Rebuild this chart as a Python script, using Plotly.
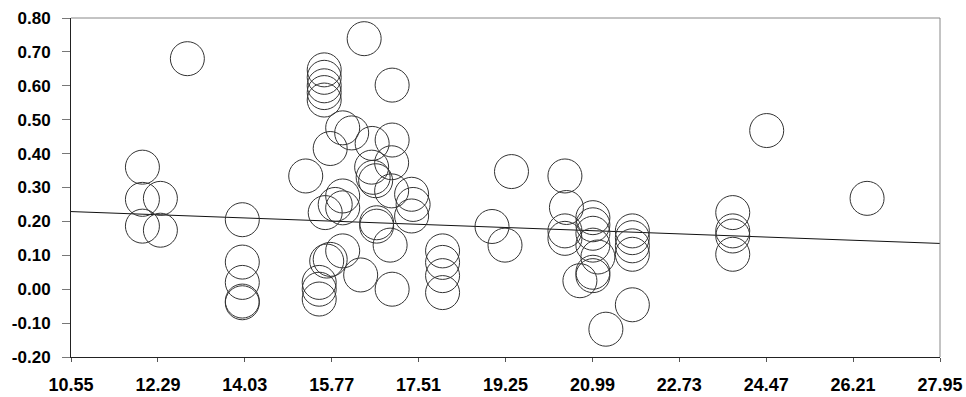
import plotly.graph_objects as go

# --- data ---
x_vals = [
    11.98, 11.98, 11.98, 12.34, 12.34, 12.88,
    13.98, 13.98, 13.98, 13.98, 13.98,
    15.25,
    15.62, 15.62, 15.62, 15.62, 15.62,
    15.74, 15.99, 16.17, 16.42, 16.98,
    16.58, 16.98, 16.57, 16.60, 16.65, 16.97, 16.97,
    17.37, 17.40, 17.37,
    15.99, 15.84, 15.99, 15.64,
    16.67, 16.67, 16.94,
    15.99, 15.67, 15.74, 16.35,
    15.52, 15.52, 15.52, 16.98,
    17.99, 17.99, 17.99, 17.99,
    19.37, 18.98, 19.24,
    20.44, 20.47, 20.44, 20.44, 20.74,
    21.00, 21.00, 21.00, 21.00, 21.10, 21.00, 21.00,
    21.79, 21.79, 21.79, 21.79, 21.79, 21.26,
    23.80, 23.80, 23.80, 23.80,
    24.48, 26.49,
]
y_vals = [
    0.360, 0.265, 0.186, 0.268, 0.174, 0.680,
    0.205, 0.080, 0.020, -0.035, -0.040,
    0.334,
    0.647, 0.625, 0.600, 0.580, 0.558,
    0.415, 0.476, 0.461, 0.739, 0.602,
    0.430, 0.440, 0.360, 0.330, 0.320, 0.373, 0.290,
    0.280, 0.250, 0.216,
    0.275, 0.250, 0.240, 0.226,
    0.196, 0.186, 0.130,
    0.113, 0.083, 0.088, 0.042,
    0.020, 0.000, -0.029, 0.000,
    0.113, 0.079, 0.040, -0.010,
    0.347, 0.185, 0.130,
    0.334, 0.241, 0.172, 0.150, 0.025,
    0.211, 0.190, 0.165, 0.130, 0.095, 0.050, 0.040,
    0.172, 0.152, 0.128, 0.103, -0.046, -0.118,
    0.226, 0.172, 0.157, 0.103,
    0.468, 0.268,
]
trend_x = [10.55, 27.95]
trend_y = [0.229, 0.135]

x_ticks = [10.55, 12.29, 14.03, 15.77, 17.51, 19.25, 20.99, 22.73, 24.47, 26.21, 27.95]
x_tick_labels = ["10.55", "12.29", "14.03", "15.77", "17.51", "19.25",
                 "20.99", "22.73", "24.47", "26.21", "27.95"]
y_ticks = [-0.2, -0.1, 0.0, 0.1, 0.2, 0.3, 0.4, 0.5, 0.6, 0.7, 0.8]
y_tick_labels = ["-0.20", "-0.10", "0.00", "0.10", "0.20", "0.30",
                 "0.40", "0.50", "0.60", "0.70", "0.80"]

fig = go.Figure()
fig.add_trace(go.Scatter(
    x=trend_x, y=trend_y, mode="lines",
    line=dict(color="#111111", width=1), hoverinfo="skip", showlegend=False,
))
fig.add_trace(go.Scatter(
    x=x_vals, y=y_vals, mode="markers",
    marker=dict(symbol="circle-open", size=34, color="#333333",
                line=dict(width=1, color="#333333")),
    showlegend=False, cliponaxis=False,
))

FAMILY = "Liberation Sans, Arial, sans-serif"

fig.update_layout(
    width=966, height=397,
    margin=dict(l=71, r=26, t=18, b=40),
    paper_bgcolor="white", plot_bgcolor="white",
    font=dict(family=FAMILY, size=17, color="#000000"),
    xaxis=dict(
        range=[10.55, 27.95], tickvals=x_ticks, ticktext=x_tick_labels,
        showgrid=False, zeroline=False, showline=True, linecolor="#222222",
        linewidth=1, ticks="outside", ticklen=4, tickcolor="#555555",
        automargin=False, ticklabelstandoff=7,
        tickfont=dict(family=FAMILY, size=18, color="#000000", weight="bold"),
    ),
    yaxis=dict(
        range=[-0.2, 0.8], tickvals=y_ticks, ticktext=y_tick_labels,
        showgrid=False, zeroline=False, showline=True, linecolor="#222222",
        linewidth=1, ticks="outside", ticklen=8, tickcolor="#777777",
        automargin=False, ticklabelstandoff=8,
        tickfont=dict(family=FAMILY, size=17, color="#000000", weight="bold"),
    ),
    shapes=[
        dict(type="line", xref="paper", yref="paper", x0=0, x1=1, y0=1, y1=1,
             line=dict(color="#888888", width=1)),
        dict(type="line", xref="paper", yref="paper", x0=1, x1=1, y0=0, y1=1,
             line=dict(color="#888888", width=1)),
    ],
)

fig.write_html(
    "out.html",
    config={"displayModeBar": False},
    post_script="document.body.style.margin='0';document.body.style.overflow='hidden';",
)
